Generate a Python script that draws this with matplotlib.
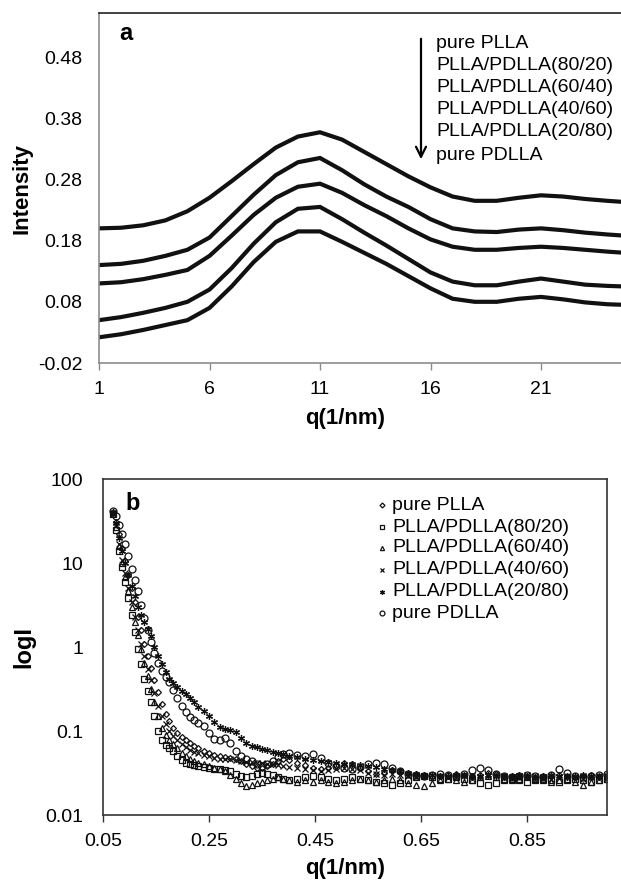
import matplotlib
matplotlib.use('Agg')
import matplotlib.pyplot as plt
from matplotlib.lines import Line2D
from matplotlib.ticker import FixedLocator, NullLocator

plt.rcParams['font.family'] = ['Liberation Sans', 'DejaVu Sans']

# ---------------- Panel a data (WAXD intensity profiles) ----------------
q_a = [1, 2, 3, 4, 5, 6, 7, 8, 9, 10, 11, 12, 13, 14, 15, 16, 17, 18, 19, 20, 21, 22, 23, 24, 24.8]
int_pure_plla = [0.200, 0.201, 0.205, 0.213, 0.228, 0.250, 0.277, 0.305, 0.332, 0.350, 0.357, 0.345, 0.325,
                 0.305, 0.285, 0.267, 0.252, 0.245, 0.245, 0.250, 0.254, 0.252, 0.248, 0.245, 0.243]
int_80_20 = [0.140, 0.142, 0.147, 0.155, 0.165, 0.185, 0.220, 0.255, 0.287, 0.308, 0.315, 0.295, 0.272,
             0.252, 0.235, 0.215, 0.200, 0.195, 0.194, 0.198, 0.200, 0.197, 0.193, 0.190, 0.188]
int_60_40 = [0.110, 0.112, 0.117, 0.124, 0.132, 0.155, 0.188, 0.222, 0.250, 0.268, 0.273, 0.258, 0.238,
             0.220, 0.200, 0.182, 0.170, 0.165, 0.165, 0.168, 0.170, 0.168, 0.165, 0.162, 0.160]
int_40_60 = [0.050, 0.055, 0.062, 0.070, 0.080, 0.100, 0.135, 0.175, 0.210, 0.232, 0.235, 0.215, 0.193,
             0.172, 0.150, 0.128, 0.113, 0.107, 0.107, 0.113, 0.118, 0.113, 0.108, 0.106, 0.105]
int_20_80 = [0.022, 0.027, 0.034, 0.042, 0.050, 0.070, 0.105, 0.145, 0.178, 0.195, 0.195, 0.178, 0.160,
             0.142, 0.122, 0.102, 0.085, 0.080, 0.080, 0.085, 0.088, 0.084, 0.079, 0.076, 0.075]
curves_a = [int_pure_plla, int_80_20, int_60_40, int_40_60, int_20_80]

labels = ['pure PLLA', 'PLLA/PDLLA(80/20)', 'PLLA/PDLLA(60/40)',
          'PLLA/PDLLA(40/60)', 'PLLA/PDLLA(20/80)', 'pure PDLLA']

xticks_a = [1, 6, 11, 16, 21]
yticks_a = [-0.02, 0.08, 0.18, 0.28, 0.38, 0.48]

# ---------------- Panel b data (SAXS, log I) ----------------
q_b = [0.068, 0.074, 0.080, 0.086, 0.092, 0.098, 0.104, 0.110, 0.116, 0.122, 0.128, 0.134, 0.140,
       0.147, 0.154, 0.161, 0.168, 0.175, 0.182, 0.190, 0.198, 0.206, 0.214, 0.222, 0.230,
       0.240, 0.250, 0.260, 0.270, 0.280, 0.290, 0.300, 0.310, 0.320, 0.330, 0.340, 0.350, 0.360,
       0.370, 0.380, 0.390, 0.400,
       0.415, 0.430, 0.445, 0.460, 0.475, 0.490, 0.505, 0.520, 0.535, 0.550, 0.565, 0.580, 0.595,
       0.610, 0.625, 0.640, 0.655, 0.670, 0.685, 0.700, 0.715, 0.730, 0.745, 0.760, 0.775, 0.790,
       0.805, 0.820, 0.835, 0.850, 0.865, 0.880, 0.895, 0.910, 0.925, 0.940, 0.955, 0.970, 0.985, 1.000]

logI_pure_plla = [39, 31, 22, 15, 10.5, 7.2, 5.0, 3.4, 2.3, 1.6, 1.1, 0.78, 0.56,
                  0.40, 0.29, 0.21, 0.16, 0.13, 0.11, 0.095, 0.085, 0.078, 0.072, 0.067, 0.063,
                  0.058, 0.055, 0.052, 0.050, 0.049, 0.048, 0.046, 0.044, 0.041, 0.038, 0.036, 0.036, 0.038,
                  0.041, 0.044, 0.046, 0.045,
                  0.042, 0.039, 0.036, 0.035, 0.036, 0.039, 0.042, 0.040, 0.036, 0.033, 0.031, 0.032, 0.034,
                  0.033, 0.031, 0.030, 0.029, 0.028, 0.029, 0.030, 0.031, 0.030, 0.029, 0.030, 0.032, 0.031,
                  0.029, 0.028, 0.029, 0.028, 0.027, 0.028, 0.029, 0.030, 0.029, 0.028, 0.029, 0.030, 0.029, 0.028]
logI_80_20 = [38, 25, 14, 9, 6, 3.8, 2.4, 1.5, 0.95, 0.62, 0.42, 0.30, 0.22,
              0.15, 0.10, 0.078, 0.068, 0.062, 0.058, 0.050, 0.045, 0.042, 0.040, 0.039, 0.038,
              0.037, 0.036, 0.035, 0.035, 0.034, 0.033, 0.031, 0.029, 0.028, 0.029, 0.031, 0.032, 0.031,
              0.030, 0.028, 0.027, 0.026,
              0.027, 0.028, 0.029, 0.028, 0.027, 0.026, 0.027, 0.028, 0.027, 0.026, 0.025, 0.024, 0.023,
              0.024, 0.026, 0.028, 0.029, 0.028, 0.027, 0.027, 0.028, 0.027, 0.026, 0.024, 0.023, 0.024,
              0.026, 0.027, 0.026, 0.025, 0.026, 0.027, 0.026, 0.025, 0.026, 0.027, 0.026, 0.025, 0.026, 0.027]
logI_60_40 = [40, 27, 16, 10, 6.8, 4.6, 3.0, 2.0, 1.4, 0.95, 0.65, 0.45, 0.32,
              0.22, 0.15, 0.11, 0.090, 0.078, 0.070, 0.062, 0.055, 0.050, 0.047, 0.044, 0.042,
              0.040, 0.038, 0.036, 0.035, 0.033, 0.030, 0.027, 0.024, 0.022, 0.023, 0.024, 0.025, 0.026,
              0.027, 0.028, 0.027, 0.026,
              0.025, 0.026, 0.025, 0.026, 0.025, 0.024, 0.025, 0.026, 0.027, 0.026, 0.025, 0.026, 0.027,
              0.026, 0.024, 0.023, 0.022, 0.024, 0.026, 0.027, 0.026, 0.025, 0.026, 0.028, 0.029, 0.028,
              0.027, 0.026, 0.027, 0.028, 0.027, 0.026, 0.025, 0.026, 0.027, 0.025, 0.023, 0.025, 0.026, 0.027]
logI_40_60 = [38, 28, 17, 11, 7.5, 5.0, 3.4, 2.3, 1.6, 1.1, 0.78, 0.55, 0.40,
              0.28, 0.20, 0.15, 0.12, 0.10, 0.088, 0.078, 0.070, 0.064, 0.060, 0.057, 0.054,
              0.052, 0.050, 0.048, 0.047, 0.046, 0.046, 0.045, 0.044, 0.043, 0.043, 0.042, 0.042, 0.041,
              0.040, 0.039, 0.038, 0.037,
              0.036, 0.035, 0.034, 0.033, 0.034, 0.035, 0.036, 0.035, 0.034, 0.032, 0.031, 0.030, 0.031,
              0.030, 0.029, 0.028, 0.029, 0.030, 0.029, 0.028, 0.029, 0.030, 0.029, 0.028, 0.029, 0.030,
              0.029, 0.028, 0.029, 0.030, 0.029, 0.028, 0.027, 0.028, 0.029, 0.028, 0.027, 0.028, 0.029, 0.028]
logI_20_80 = [40, 30, 20, 14, 10, 7.2, 5.3, 4.0, 3.0, 2.4, 2.0, 1.65, 1.35,
              1.0, 0.78, 0.62, 0.50, 0.42, 0.37, 0.33, 0.30, 0.275, 0.25, 0.22, 0.195,
              0.175, 0.150, 0.128, 0.112, 0.106, 0.104, 0.098, 0.082, 0.072, 0.067, 0.064, 0.061, 0.059,
              0.057, 0.055, 0.053, 0.051,
              0.049, 0.047, 0.045, 0.044, 0.043, 0.042, 0.041, 0.040, 0.039, 0.038, 0.037, 0.035, 0.034,
              0.033, 0.032, 0.031, 0.030, 0.030, 0.029, 0.029, 0.030, 0.029, 0.028, 0.029, 0.030, 0.029,
              0.028, 0.029, 0.030, 0.029, 0.028, 0.029, 0.030, 0.029, 0.028, 0.029, 0.030, 0.029, 0.028, 0.030]
logI_pure_pdlla = [42, 36, 28, 22, 17, 12, 8.5, 6.2, 4.6, 3.2, 2.2, 1.6, 1.15,
                   0.85, 0.65, 0.52, 0.44, 0.38, 0.31, 0.25, 0.20, 0.17, 0.148, 0.135, 0.125,
                   0.115, 0.095, 0.080, 0.078, 0.082, 0.072, 0.058, 0.050, 0.046, 0.044, 0.040, 0.038, 0.040,
                   0.044, 0.049, 0.053, 0.055,
                   0.052, 0.050, 0.053, 0.048, 0.042, 0.038, 0.036, 0.035, 0.037, 0.040, 0.042, 0.040, 0.036,
                   0.033, 0.031, 0.030, 0.029, 0.030, 0.031, 0.030, 0.029, 0.031, 0.034, 0.036, 0.034, 0.031,
                   0.029, 0.028, 0.029, 0.030, 0.029, 0.028, 0.030, 0.035, 0.032, 0.029, 0.028, 0.029, 0.030, 0.031]
series_b = [logI_pure_plla, logI_80_20, logI_60_40, logI_40_60, logI_20_80, logI_pure_pdlla]

xticks_b = [0.05, 0.25, 0.45, 0.65, 0.85]
yticks_b = [0.01, 0.1, 1, 10, 100]
yticklabels_b = ['0.01', '0.1', '1', '10', '100']

# ---------------- Figure ----------------
W, H = 621, 880
fig = plt.figure(figsize=(W / 100, H / 100), dpi=100)


def fx(px):
    return px / W


def fy(py):
    return 1 - py / H


FS = 14
TFS = 16
gray = '#8c8c8c'

# ---- Panel a ----
ax_left, ax_right, ax_top, ax_bot = 99, 626, 13, 363
axa = fig.add_axes([fx(ax_left), fy(ax_bot), (ax_right - ax_left) / W, (ax_bot - ax_top) / H])
for yv in curves_a:
    axa.plot(q_a, yv, color='#111111', lw=3.0, solid_joinstyle='miter')
axa.set_xlim(1, 1 + (ax_right - ax_left) / 22.1)
axa.set_ylim(-0.02, -0.02 + (ax_bot - ax_top) / 612.0)
axa.xaxis.set_major_locator(FixedLocator(xticks_a))
axa.yaxis.set_major_locator(FixedLocator(yticks_a))
axa.set_yticklabels([f'{v:.2f}' for v in yticks_a])
axa.set_xticklabels([str(v) for v in xticks_a])
axa.tick_params(axis='x', length=5, width=1, color=gray, direction='out', pad=8, labelsize=FS)
axa.tick_params(axis='y', length=0, pad=12, labelsize=FS)
axa.spines['left'].set_color(gray)
axa.spines['bottom'].set_color(gray)
axa.spines['top'].set_color('#222222')
axa.spines['right'].set_visible(False)
for s in ['left', 'bottom', 'top']:
    axa.spines[s].set_linewidth(1.2)

fig.text(fx(22), fy(188), 'Intensity', rotation=90, fontsize=TFS, fontweight='bold',
         ha='center', va='center')
fig.text(fx(345), fy(418), 'q(1/nm)', fontsize=TFS, fontweight='bold', ha='center', va='center')
fig.text(fx(126), fy(33), 'a', fontsize=17, fontweight='bold', ha='center', va='center')

leg_y_a = [43, 65, 87, 110, 132, 155]
for lab, yy in zip(labels, leg_y_a):
    fig.text(fx(436), fy(yy), lab, fontsize=FS, ha='left', va='center')
axa.annotate('', xy=(fx(421), fy(162)), xytext=(fx(421), fy(36)),
             xycoords='figure fraction', textcoords='figure fraction',
             arrowprops=dict(arrowstyle='->', color='black', lw=1.6, mutation_scale=18))

# ---- Panel b ----
bl, br, bt, bb = 103, 607, 479, 815
axb = fig.add_axes([fx(bl), fy(bb), (br - bl) / W, (bb - bt) / H])
axb.set_yscale('log')
markers = ['D', 's', '^', 'x', (6, 2, 0), 'o']
msizes = [3.0, 4.5, 4.0, 4.0, 5.0, 5.0]
for yv, m, ms in zip(series_b, markers, msizes):
    axb.plot(q_b, yv, linestyle='none', marker=m, markersize=ms, markerfacecolor='none',
             markeredgecolor='#111111', markeredgewidth=0.9)
axb.set_xlim(0.05, 1.0)
axb.set_ylim(0.01, 100)
axb.xaxis.set_major_locator(FixedLocator(xticks_b))
axb.set_xticklabels(['0.05', '0.25', '0.45', '0.65', '0.85'])
axb.yaxis.set_major_locator(FixedLocator(yticks_b))
axb.yaxis.set_minor_locator(NullLocator())
axb.set_yticklabels(yticklabels_b)
axb.tick_params(axis='x', length=5, width=1, color='#333333', direction='out', pad=8, labelsize=FS)
axb.tick_params(axis='y', length=0, pad=14, labelsize=FS)
for s in axb.spines.values():
    s.set_color('#333333')
    s.set_linewidth(1.2)

fig.text(fx(24), fy(647), 'logI', rotation=90, fontsize=TFS + 1, fontweight='bold',
         ha='center', va='center')
fig.text(fx(345), fy(868), 'q(1/nm)', fontsize=TFS, fontweight='bold', ha='center', va='center')
fig.text(fx(133), fy(503), 'b', fontsize=17, fontweight='bold', ha='center', va='center')

leg_y_b = [505, 527, 548, 570, 592, 613]
leg_ms = [2.5, 3.5, 3.0, 3.0, 3.5, 3.5]
for lab, yy, m, ms in zip(labels, leg_y_b, markers, leg_ms):
    fig.add_artist(Line2D([fx(382)], [fy(yy)], transform=fig.transFigure, linestyle='none',
                          marker=m, markersize=ms, markerfacecolor='none',
                          markeredgecolor='#111111', markeredgewidth=0.9))
    fig.text(fx(392), fy(yy), lab, fontsize=FS, ha='left', va='center')

fig.savefig('out.png', dpi=100)
